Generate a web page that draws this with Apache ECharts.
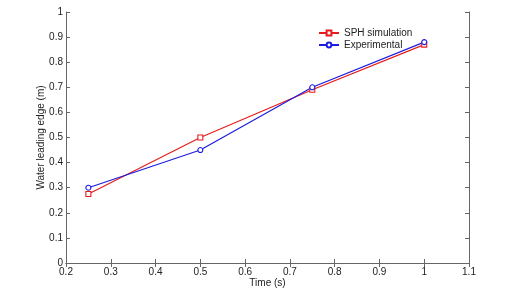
<!DOCTYPE html>
<html><head><meta charset="utf-8">
<script src="https://cdn.jsdelivr.net/npm/echarts@6/dist/echarts.min.js"></script>
<style>html,body{margin:0;padding:0;background:#fff}#c{width:526px;height:298px}</style>
</head><body><div id="c"></div>
<script>
var time = [0.25, 0.5, 0.75, 1.0];
var sph = [0.275, 0.50, 0.69, 0.87];
var experimental = [0.30, 0.45, 0.70, 0.88];
var xTicks = [0.2,0.3,0.4,0.5,0.6,0.7,0.8,0.9,1,1.1];
var yTicks = [0,0.1,0.2,0.3,0.4,0.5,0.6,0.7,0.8,0.9,1];

var chart = echarts.init(document.getElementById('c'));
var font = 'Liberation Sans, Arial, sans-serif';
var axisLine = {show:true, lineStyle:{color:'#666', width:1}};
var tick = {show:true, inside:true, length:4, lineStyle:{color:'#666'}};
function pair(a){return a.map(function(v,i){return [time[i], v];});}
chart.setOption({
  animation:false,
  grid:{left:66, right:57, top:12, bottom:35},
  legend:{
    left:313, top:23, orient:'vertical', itemGap:2, itemWidth:20, itemHeight:6,
    textStyle:{fontFamily:font, fontSize:10, color:'#222'},
    data:['SPH simulation','Experimental']
  },
  xAxis:[{
    type:'value', min:0.2, max:1.1, interval:0.1,
    name:'Time (s)', nameLocation:'middle', nameGap:15, nameMoveOverlap:false,
    nameTextStyle:{fontFamily:font, fontSize:10, color:'#222'},
    axisLine:axisLine, axisTick:tick, splitLine:{show:false},
    axisLabel:{fontFamily:font, fontSize:10, color:'#222', margin:4,
      formatter:function(v){return String(Math.round(v*10)/10);}}
  },{
    type:'value', position:'top', min:0.2, max:1.1, interval:0.1,
    axisLine:axisLine, axisTick:tick, axisLabel:{show:false}, splitLine:{show:false}
  }],
  yAxis:[{
    type:'value', min:0, max:1, interval:0.1,
    name:'Water leading edge (m)', nameLocation:'middle', nameGap:20, nameMoveOverlap:false,
    nameTextStyle:{fontFamily:font, fontSize:10, color:'#222'},
    axisLine:axisLine, axisTick:tick, splitLine:{show:false},
    axisLabel:{fontFamily:font, fontSize:10, color:'#222', margin:3,
      formatter:function(v){return String(Math.round(v*10)/10);}}
  },{
    type:'value', position:'right', min:0, max:1, interval:0.1,
    axisLine:axisLine, axisTick:tick, axisLabel:{show:false}, splitLine:{show:false}
  }],
  series:[{
    name:'SPH simulation', type:'line', data:pair(sph),
    symbol:'rect', symbolSize:5, showAllSymbol:true,
    lineStyle:{color:'#e81c1c', width:1.2},
    itemStyle:{color:'#fff', borderColor:'#e81c1c', borderWidth:1.1}
  },{
    name:'Experimental', type:'line', data:pair(experimental),
    symbol:'circle', symbolSize:5, showAllSymbol:true,
    lineStyle:{color:'#1c1ce0', width:1.2},
    itemStyle:{color:'#fff', borderColor:'#1c1ce0', borderWidth:1.1}
  }]
});
</script></body></html>
